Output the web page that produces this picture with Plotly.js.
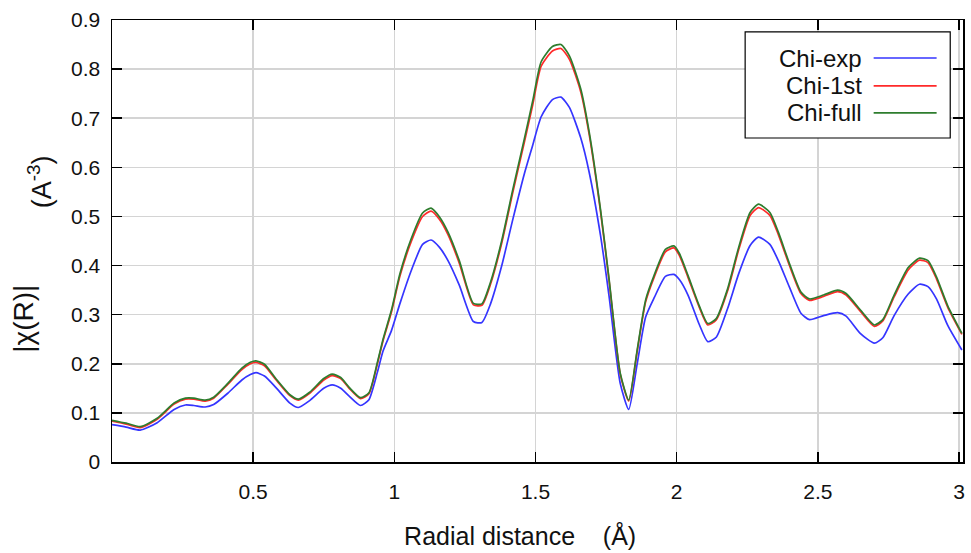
<!DOCTYPE html>
<html>
<head>
<meta charset="utf-8">
<script src="https://cdn.plot.ly/plotly-3.0.1.min.js"></script>
<style>html,body{margin:0;padding:0;background:#fff;}#chart{width:971px;height:553px;}</style>
</head>
<body>
<div id="chart"></div>
<script>
const radialDistance = [0.00,0.05,0.10,0.16,0.22,0.26,0.29,0.33,0.36,0.41,
  0.46,0.49,0.51,0.54,0.58,0.63,0.66,0.70,0.75,0.78,
  0.81,0.84,0.88,0.91,0.94,0.96,0.99,1.02,1.06,1.10,
  1.13,1.16,1.19,1.23,1.28,1.31,1.34,1.38,1.42,1.46,
  1.49,1.52,1.56,1.59,1.62,1.66,1.69,1.73,1.76,1.80,
  1.83,1.86,1.89,1.92,1.96,1.99,2.01,2.04,2.08,2.11,
  2.14,2.18,2.22,2.26,2.29,2.33,2.36,2.40,2.44,2.47,
  2.52,2.57,2.60,2.65,2.70,2.73,2.77,2.82,2.86,2.89,
  2.92,2.96,3.01];

const chiExp = [0.076,0.071,0.065,0.080,0.107,0.116,0.115,0.112,0.117,0.140,
  0.167,0.178,0.182,0.175,0.152,0.120,0.111,0.125,0.150,0.157,
  0.150,0.134,0.115,0.127,0.183,0.226,0.268,0.323,0.390,0.443,
  0.452,0.437,0.410,0.360,0.286,0.284,0.321,0.399,0.495,0.586,
  0.645,0.703,0.738,0.743,0.722,0.660,0.590,0.462,0.340,0.160,
  0.107,0.200,0.295,0.334,0.378,0.382,0.371,0.340,0.280,0.245,
  0.254,0.312,0.384,0.441,0.458,0.443,0.410,0.355,0.303,0.290,
  0.298,0.304,0.297,0.262,0.242,0.253,0.298,0.342,0.362,0.357,
  0.332,0.278,0.228];

const chi1st = [0.083,0.077,0.070,0.087,0.118,0.128,0.128,0.124,0.130,0.158,
  0.188,0.200,0.203,0.196,0.168,0.135,0.126,0.140,0.167,0.176,
  0.170,0.150,0.129,0.139,0.200,0.247,0.306,0.379,0.449,0.500,
  0.511,0.494,0.463,0.405,0.320,0.319,0.361,0.445,0.550,0.650,
  0.727,0.806,0.837,0.842,0.820,0.754,0.667,0.511,0.372,0.179,
  0.124,0.225,0.326,0.376,0.428,0.436,0.420,0.376,0.315,0.279,
  0.289,0.348,0.433,0.502,0.518,0.502,0.463,0.399,0.343,0.329,
  0.337,0.347,0.340,0.307,0.276,0.287,0.336,0.391,0.411,0.406,
  0.373,0.315,0.260];

const chiFull = [0.085,0.079,0.072,0.089,0.120,0.130,0.130,0.126,0.132,0.160,
  0.191,0.203,0.206,0.199,0.170,0.137,0.128,0.142,0.170,0.179,
  0.172,0.152,0.131,0.141,0.203,0.250,0.310,0.384,0.455,0.507,
  0.517,0.499,0.468,0.410,0.323,0.322,0.365,0.450,0.556,0.657,
  0.735,0.815,0.846,0.850,0.827,0.760,0.672,0.515,0.375,0.181,
  0.126,0.228,0.330,0.380,0.433,0.440,0.424,0.380,0.318,0.282,
  0.292,0.352,0.438,0.508,0.525,0.508,0.468,0.403,0.346,0.332,
  0.340,0.350,0.343,0.310,0.279,0.290,0.340,0.396,0.415,0.410,
  0.377,0.318,0.262];

const seriesNames = ["Chi-exp", "Chi-1st", "Chi-full"];
const seriesColors = ["#3535ff", "#ff2a2a", "#2e7d2e"];
const seriesData = [chiExp, chi1st, chiFull];

const yTickVals = [0,0.1,0.2,0.3,0.4,0.5,0.6,0.7,0.8,0.9];
const yTickText = ["0","0.1","0.2","0.3","0.4","0.5","0.6","0.7","0.8","0.9"];
const xTickVals = [0.5,1,1.5,2,2.5,3];
const xTickText = ["0.5","1","1.5","2","2.5","3"];

const traces = seriesData.map((ys, i) => ({
  x: radialDistance, y: ys, type: "scatter", mode: "lines",
  name: seriesNames[i],
  line: {color: seriesColors[i], width: 1.7, shape: "spline", smoothing: 0.6},
  showlegend: false, hoverinfo: "skip"
}));

const fontFam = "Liberation Sans, Arial, sans-serif";
const nb = n => "&nbsp;".repeat(n);
const legendRows = [0.914, 0.851, 0.790];
const shapes = [{type: "rect", xref: "paper", yref: "paper", x0: 0.744, x1: 0.985, y0: 0.733, y1: 0.973,
  line: {color: "#000", width: 1.2}, fillcolor: "#fff", layer: "above"}];
const annotations = [];
seriesNames.forEach((n, i) => {
  shapes.push({type: "line", xref: "paper", yref: "paper", x0: 0.895, x1: 0.969, y0: legendRows[i], y1: legendRows[i],
    line: {color: seriesColors[i], width: 1.7}, layer: "above"});
  annotations.push({xref: "paper", yref: "paper", x: 0.884, y: legendRows[i], xanchor: "right", yanchor: "middle",
    text: n, showarrow: false, font: {family: fontFam, size: 24, color: "#111"}});
});
annotations.push({xref: "paper", yref: "paper", x: -0.0846, y: 0.633, xanchor: "center", yanchor: "middle",
  textangle: -90, text: "(A<sup>-3</sup>)", showarrow: false, font: {family: fontFam, size: 27, color: "#111"}});

const layout = {
  width: 971, height: 553,
  margin: {l: 112, r: 8, t: 20, b: 91},
  paper_bgcolor: "#fff", plot_bgcolor: "#fff",
  font: {family: fontFam, color: "#111"},
  xaxis: {
    range: [0, 3.014], tickvals: xTickVals, ticktext: xTickText,
    ticks: "inside", ticklen: 10, tickwidth: 1.5, tickcolor: "#000",
    showline: true, linecolor: "#000", linewidth: 1.5, mirror: "ticks",
    showgrid: true, gridcolor: "#d4d4d4", gridwidth: 1.5, zeroline: false,
    ticklabelstandoff: 10,
    tickfont: {size: 21, family: fontFam, color: "#111"},
    title: {text: "Radial distance" + nb(4) + "(Å)" + nb(5), font: {size: 25, family: fontFam, color: "#111"}, standoff: 26}
  },
  yaxis: {
    range: [0, 0.9], tickvals: yTickVals, ticktext: yTickText,
    ticks: "inside", ticklen: 10, tickwidth: 1.5, tickcolor: "#000",
    showline: true, linecolor: "#000", linewidth: 1.5, mirror: "ticks",
    showgrid: true, gridcolor: "#d4d4d4", gridwidth: 1.5, zeroline: false,
    ticklabelstandoff: 6,
    tickfont: {size: 21, family: fontFam, color: "#111"},
    title: {text: "|χ(R)|" + nb(20), font: {size: 28, family: fontFam, color: "#111"}, standoff: 29}
  },
  shapes: shapes,
  annotations: annotations,
  showlegend: false
};

Plotly.newPlot("chart", traces, layout, {displayModeBar: false, staticPlot: true});
</script>
</body>
</html>
